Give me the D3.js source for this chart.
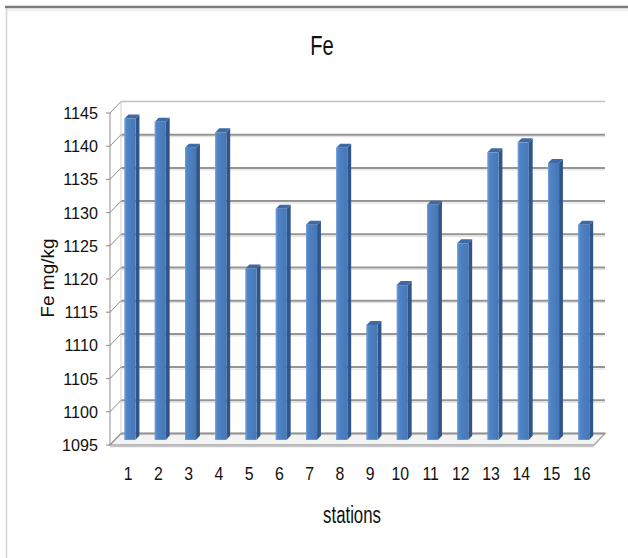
<!DOCTYPE html>
<html><head><meta charset="utf-8">
<script src="https://cdn.jsdelivr.net/npm/d3@7"></script>
<style>html,body{margin:0;padding:0;background:#fff;}svg{display:block;}</style>
</head><body>
<script>
const title = "Fe";
const yTitle = "Fe mg/kg";
const xTitle = "stations";
const stations = ["1","2","3","4","5","6","7","8","9","10","11","12","13","14","15","16"];
const feValues = [1143.4, 1142.9, 1139.0, 1141.3, 1120.8, 1129.8, 1127.4, 1139.0, 1112.3, 1118.3, 1130.4, 1124.6, 1138.3, 1139.8, 1136.7, 1127.4];
const yTicks = [1095,1100,1105,1110,1115,1120,1125,1130,1135,1140,1145];

const W = 628, H = 558;
const svg = d3.select("body").append("svg").attr("width", W).attr("height", H);
const DX = 11, DY = -11.5;        // depth offset of the 3D box
const x = d3.scaleBand().domain(stations).range([110, 594]);
const y = d3.scaleLinear().domain([1095, 1145]).range([445, 113]);

function txt(xp, yp, s, size, anchor, sx, rot) {
  const g = svg.append("g").attr("transform", `translate(${xp},${yp})` + (rot ? ` rotate(${rot})` : "") + ` scale(${sx},1)`);
  g.append("text").attr("x", 0).attr("y", 0).attr("text-anchor", anchor)
    .attr("font-family", "Liberation Sans, Arial, sans-serif").attr("font-size", size).attr("fill", "#111").text(s);
}

// frame
svg.append("line").attr("x1", 5).attr("x2", W).attr("y1", 7).attr("y2", 7).attr("stroke", "#7a7a7a").attr("stroke-width", 2.5);
svg.append("line").attr("x1", 6).attr("x2", W).attr("y1", 10).attr("y2", 10).attr("stroke", "#e2e2e2").attr("stroke-width", 1);
svg.append("line").attr("x1", 6.5).attr("x2", 6.5).attr("y1", 8).attr("y2", H).attr("stroke", "#d4d4d4").attr("stroke-width", 1.5);

const [x0, x1] = x.range();
const yb = y(1095);

// floor
svg.append("polygon")
  .attr("points", [[x0, yb], [x1, yb], [x1 + DX, yb + DY], [x0 + DX, yb + DY]].map(p => p.join(",")).join(" "))
  .attr("fill", "#f4f4f4").attr("stroke", "#a8a8a8").attr("stroke-width", 1.5);
svg.append("line").attr("x1", x0).attr("x2", x1).attr("y1", yb + 1.5).attr("y2", yb + 1.5).attr("stroke", "#c8c8c8").attr("stroke-width", 1.5);

// back wall gridlines
svg.selectAll("line.grid").data(yTicks).join("line").attr("class", "grid")
  .attr("x1", x0 + DX).attr("x2", x1 + DX)
  .attr("y1", d => y(d) + DY).attr("y2", d => y(d) + DY)
  .attr("stroke", d => d === 1145 ? "#c0c0c0" : "#959595").attr("stroke-width", d => d === 1145 ? 1.5 : 2);
svg.selectAll("line.gridsh").data(yTicks.filter(d => d !== 1145 && d !== 1095)).join("line").attr("class", "gridsh")
  .attr("x1", x0 + DX).attr("x2", x1 + DX)
  .attr("y1", d => y(d) + DY + 2).attr("y2", d => y(d) + DY + 2)
  .attr("stroke", "#dcdcdc").attr("stroke-width", 1);
// back wall left edge
svg.append("line").attr("x1", x0 + DX).attr("x2", x0 + DX).attr("y1", y(1145) + DY).attr("y2", yb + DY)
  .attr("stroke", "#d0d0d0").attr("stroke-width", 1);

// side wall gridlines (diagonals) and front axis
svg.selectAll("line.side").data(yTicks).join("line").attr("class", "side")
  .attr("x1", x0).attr("x2", x0 + DX).attr("y1", d => y(d)).attr("y2", d => y(d) + DY)
  .attr("stroke", "#8c8c8c").attr("stroke-width", 1);
svg.append("line").attr("x1", x0).attr("x2", x0).attr("y1", y(1145)).attr("y2", yb)
  .attr("stroke", "#8c8c8c").attr("stroke-width", 1);
svg.selectAll("line.tick").data(yTicks).join("line").attr("class", "tick")
  .attr("x1", x0 - 4).attr("x2", x0).attr("y1", d => y(d)).attr("y2", d => y(d))
  .attr("stroke", "#8c8c8c").attr("stroke-width", 1);

// bars
const defs = svg.append("defs");
const gr = defs.append("linearGradient").attr("id", "front").attr("x1", "0").attr("x2", "1").attr("y1", "0").attr("y2", "0");
gr.append("stop").attr("offset", "0").attr("stop-color", "#5a8fcf");
gr.append("stop").attr("offset", "0.25").attr("stop-color", "#4f83c4");
gr.append("stop").attr("offset", "1").attr("stop-color", "#4677b6");

const d0 = 0.45, d1 = 0.8, bw = 11;
const ox0 = DX * d0, oy0 = DY * d0, ox1 = DX * d1, oy1 = DY * d1;
const data = stations.map((s, i) => ({ s, v: feValues[i] }));
const bars = svg.selectAll("g.bar").data(data).join("g").attr("class", "bar");
bars.each(function (d) {
  const g = d3.select(this);
  const c = x(d.s) + x.bandwidth() / 2;
  const L = c - bw / 2 + ox0, R = c + bw / 2 + ox0;
  const yt = y(d.v) + oy0, ybt = yb + oy0;
  g.append("polygon").attr("points", [[R, yt], [R + ox1 - ox0, yt + oy1 - oy0], [R + ox1 - ox0, ybt + oy1 - oy0], [R, ybt]].map(p => p.join(",")).join(" "))
    .attr("fill", "#2f558a");
  g.append("polygon").attr("points", [[L, yt], [R, yt], [R + ox1 - ox0, yt + oy1 - oy0], [L + ox1 - ox0, yt + oy1 - oy0]].map(p => p.join(",")).join(" "))
    .attr("fill", "#3d6aa6");
  g.append("rect").attr("x", L).attr("y", yt).attr("width", bw).attr("height", ybt - yt).attr("fill", "url(#front)");
  g.append("line").attr("x1", L + 0.5).attr("x2", L + 0.5).attr("y1", yt).attr("y2", ybt).attr("stroke", "#6b9ad6").attr("stroke-width", 1);
});

// y tick labels
yTicks.forEach(t => txt(98, y(t) + 6, String(t), 17, "end", 0.95));
// x tick labels
stations.forEach(s => txt(x(s) + x.bandwidth() / 2 + 3, 480, s, 18, "middle", 0.88));
// titles
txt(322, 55, title, 28, "middle", 0.72);
txt(352, 523, xTitle, 23, "middle", 0.73);
txt(54, 278, yTitle, 19, "middle", 1.0, -90);
</script>
</body></html>
